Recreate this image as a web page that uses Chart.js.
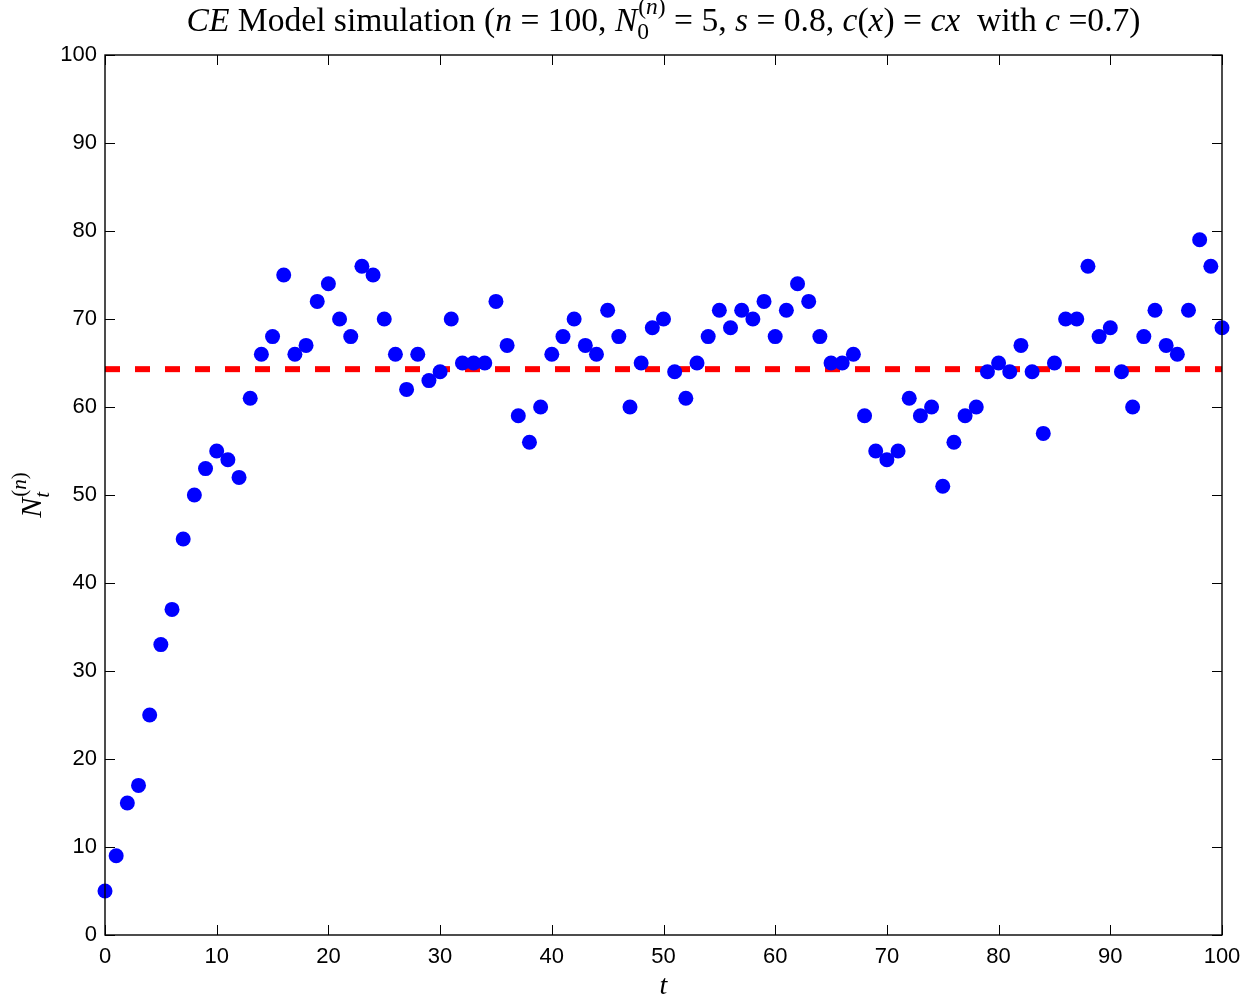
<!DOCTYPE html>
<html>
<head>
<meta charset="utf-8">
<script src="https://cdn.jsdelivr.net/npm/chart.js@4.4.1/dist/chart.umd.min.js"></script>
<style>html,body{margin:0;padding:0;background:#fff}canvas{display:block}</style>
</head>
<body>
<canvas id="c" width="1245" height="998"></canvas>
<script>
// ---- data ----
const tValues = [0,1,2,3,4,5,6,7,8,9,10,11,12,13,14,15,16,17,18,19,20,21,22,23,24,25,26,27,28,29,30,31,32,33,34,35,36,37,38,39,40,41,42,43,44,45,46,47,48,49,50,51,52,53,54,55,56,57,58,59,60,61,62,63,64,65,66,67,68,69,70,71,72,73,74,75,76,77,78,79,80,81,82,83,84,85,86,87,88,89,90,91,92,93,94,95,96,97,98,99,100];
const nValues = [5,9,15,17,25,33,37,45,50,53,55,54,52,61,66,68,75,66,67,72,74,70,68,76,75,70,66,62,66,63,64,70,65,65,65,72,67,59,56,60,66,68,70,67,66,71,68,60,65,69,70,64,61,65,68,71,69,71,70,72,68,71,74,72,68,65,65,66,59,55,54,55,61,59,60,51,56,59,60,64,65,64,67,64,57,65,70,70,76,68,69,64,60,68,71,67,66,71,79,76,69];
const meanLevel = 64.3;
const meanRange = [0, 100];
const xTicks = [0,10,20,30,40,50,60,70,80,90,100];
const yTicks = [0,10,20,30,40,50,60,70,80,90,100];

const SERIF = '"Liberation Serif","DejaVu Serif",serif';
const SANS = '"Liberation Sans",Arial,Helvetica,sans-serif';

// rich text segments for the title and axis labels
const titleSegs = [
  {s:'CE', i:true}, {s:' Model simulation ('}, {s:'n', i:true}, {s:' = 100, '},
  {s:'N', i:true}, {stack:true, sup:[{s:'('},{s:'n',i:true},{s:')'}], sub:[{s:'0'}]},
  {s:' = 5, '}, {s:'s', i:true}, {s:' = 0.8, '}, {s:'c', i:true}, {s:'('}, {s:'x', i:true},
  {s:') = '}, {s:'cx', i:true}, {s:'  with '}, {s:'c', i:true}, {s:' =0.7)'}
];
const yLabelSegs = [
  {s:'N', i:true}, {stack:true, sup:[{s:'('},{s:'n',i:true},{s:')'}], sub:[{s:'t',i:true}]}
];
const xLabelSegs = [{s:'t', i:true}];

function fontOf(size, italic){ return (italic ? 'italic ' : '') + size + 'px ' + SERIF; }

function runText(ctx, segs, size, x, base, draw){
  let x0 = x;
  for (const sg of segs){
    if (sg.stack){
      const sz = size * 0.7;
      const wSup = runText(ctx, sg.sup, sz, x + 1, base - size*0.5, draw);
      const wSub = runText(ctx, sg.sub, sz, x, base + size*0.25, draw);
      x += Math.max(wSup + 1, wSub);
    } else {
      ctx.font = fontOf(size, sg.i);
      if (draw) ctx.fillText(sg.s, x, base);
      x += ctx.measureText(sg.s).width;
    }
  }
  return x - x0;
}

const decorPlugin = {
  id: 'decor',
  afterDatasetsDraw(chart){
    const {ctx, chartArea:a, scales:{x, y}} = chart;
    ctx.save();
    ctx.strokeStyle = '#000';
    ctx.lineWidth = 1;
    ctx.beginPath();
    const tl = 10;
    xTicks.forEach(v => {
      const px = Math.round(x.getPixelForValue(v)) + 0.5;
      ctx.moveTo(px, a.bottom); ctx.lineTo(px, a.bottom - tl);
      ctx.moveTo(px, a.top); ctx.lineTo(px, a.top + tl);
    });
    yTicks.forEach(v => {
      const py = Math.round(y.getPixelForValue(v)) + 0.5;
      ctx.moveTo(a.left, py); ctx.lineTo(a.left + tl, py);
      ctx.moveTo(a.right, py); ctx.lineTo(a.right - tl, py);
    });
    ctx.stroke();
    ctx.lineWidth = 1.4;
    ctx.strokeRect(a.left, a.top, a.right - a.left, a.bottom - a.top);
    ctx.restore();
  },
  afterDraw(chart){
    const {ctx, chartArea:a} = chart;
    ctx.save();
    ctx.fillStyle = '#000';
    ctx.textBaseline = 'alphabetic';
    ctx.textAlign = 'left';
    const cx = (a.left + a.right) / 2;
    let size = 24;
    const w0 = runText(ctx, titleSegs, size, 0, 0, false);
    size = size * 955 / w0;
    const w = runText(ctx, titleSegs, size, 0, 0, false);
    runText(ctx, titleSegs, size, cx - w/2, 31, true);
    const wx = runText(ctx, xLabelSegs, 28, 0, 0, false);
    runText(ctx, xLabelSegs, 28, cx - wx/2, 994, true);
    ctx.translate(41, (a.top + a.bottom) / 2);
    ctx.rotate(-Math.PI/2);
    const wy = runText(ctx, yLabelSegs, 30, 0, 0, false);
    runText(ctx, yLabelSegs, 30, -wy/2, 0, true);
    ctx.restore();
  }
};

const points = tValues.map((t, i) => ({x: t, y: nValues[i]}));
const meanLine = meanRange.map(t => ({x: t, y: meanLevel}));

new Chart(document.getElementById('c'), {
  type: 'scatter',
  data: {
    datasets: [
      {
        label: 'mean',
        type: 'line',
        data: meanLine,
        borderColor: '#ff0000',
        borderWidth: 6,
        borderDash: [15, 15],
        pointRadius: 0,
        fill: false,
        order: 2
      },
      {
        label: 'N_t',
        data: points,
        backgroundColor: '#0000ff',
        borderWidth: 0,
        pointRadius: 7.5,
        pointHoverRadius: 7.5,
        clip: false,
        order: 1
      }
    ]
  },
  options: {
    responsive: false,
    animation: false,
    events: [],
    layout: { padding: { left: 0, top: 55, right: 23, bottom: 0 } },
    plugins: { legend: { display: false }, title: { display: false }, tooltip: { enabled: false } },
    scales: {
      x: {
        type: 'linear', min: 0, max: 100,
        afterFit(s){ s.height = 63; s.paddingLeft = 0; s.paddingRight = 0; },
        afterBuildTicks(s){ s.ticks = xTicks.map(v => ({value: v})); },
        grid: { display: false, drawTicks: false },
        border: { display: false },
        ticks: { color: '#000', font: { family: SANS, size: 22 }, padding: 9, maxRotation: 0, autoSkip: false }
      },
      y: {
        type: 'linear', min: 0, max: 100,
        afterFit(s){ s.width = 105; s.paddingTop = 0; s.paddingBottom = 0; },
        afterBuildTicks(s){ s.ticks = yTicks.map(v => ({value: v})); },
        grid: { display: false, drawTicks: false },
        border: { display: false },
        ticks: { color: '#000', font: { family: SANS, size: 22 }, padding: 8, autoSkip: false }
      }
    }
  },
  plugins: [decorPlugin]
});
</script>
</body>
</html>
